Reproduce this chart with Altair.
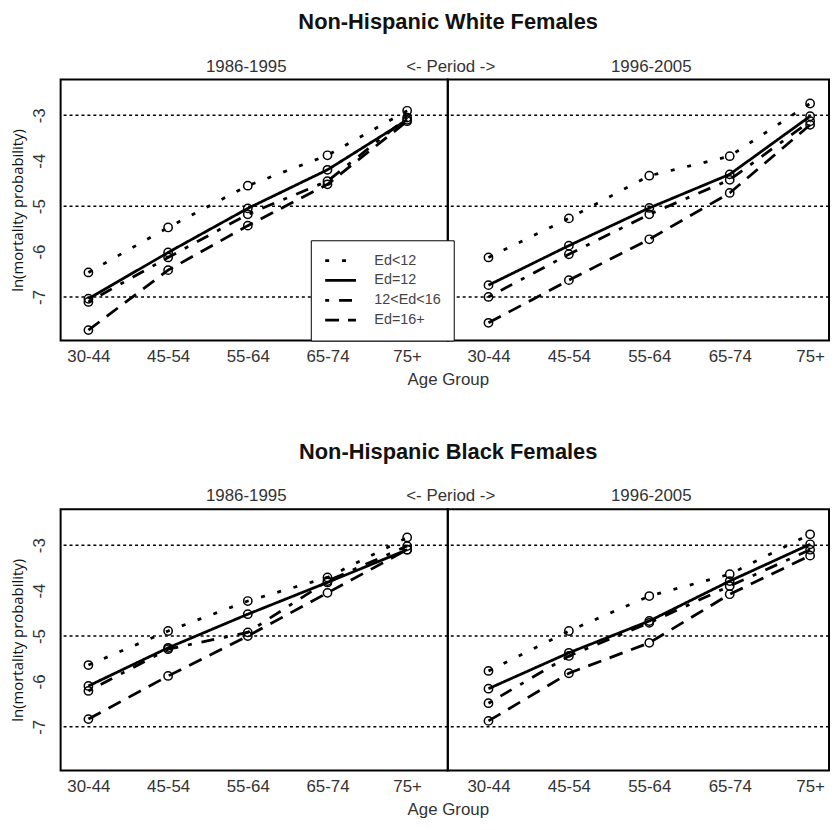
import altair as alt
import pandas as pd

# ---- data ----
age_labels = ["30-44", "45-54", "55-64", "65-74", "75+"]
age_pos = [1, 2, 3, 4, 5]
edu_levels = ["Ed<12", "Ed=12", "12<Ed<16", "Ed=16+"]
periods = ["1986-1995", "1996-2005"]
ref_lines = [-3, -5, -7]
y_ticks = [-7, -6, -5, -4, -3]

# Non-Hispanic White Females, 1986-1995
w1_lt12 = [-6.46, -5.47, -4.55, -3.88, -2.90]
w1_eq12 = [-7.04, -6.02, -5.05, -4.20, -3.10]
w1_mid = [-7.11, -6.13, -5.18, -4.45, -3.05]
w1_col = [-7.73, -6.41, -5.43, -4.52, -3.13]
# Non-Hispanic White Females, 1996-2005
w2_lt12 = [-6.13, -5.27, -4.33, -3.90, -2.74]
w2_eq12 = [-6.74, -5.87, -5.04, -4.30, -3.02]
w2_mid = [-7.00, -6.06, -5.18, -4.42, -3.13]
w2_col = [-7.57, -6.63, -5.73, -4.71, -3.21]
# Non-Hispanic Black Females, 1986-1995
b1_lt12 = [-5.64, -4.89, -4.23, -3.71, -2.83]
b1_eq12 = [-6.10, -5.26, -4.52, -3.82, -3.10]
b1_mid = [-6.21, -5.29, -4.92, -3.79, -3.02]
b1_col = [-6.83, -5.88, -5.00, -4.05, -3.10]
# Non-Hispanic Black Females, 1996-2005
b2_lt12 = [-5.77, -4.89, -4.12, -3.64, -2.76]
b2_eq12 = [-6.16, -5.37, -4.67, -3.79, -2.98]
b2_mid = [-6.48, -5.44, -4.71, -3.90, -3.10]
b2_col = [-6.87, -5.82, -5.15, -4.08, -3.23]

FONT = "Liberation Sans, Arial, sans-serif"
dashes = [[4, 13], [1, 0], [4, 10, 13, 10], [14, 9]]
label_expr = "[" + ",".join("'%s'" % a for a in age_labels) + "][datum.value - 1]"
Y_DOMAIN = [-7.96, -2.21]
H = 263


def frame(series):
    rows = []
    for lvl, vals in zip(edu_levels, series):
        for pos, v in zip(age_pos, vals):
            rows.append({"edu": lvl, "age": pos, "val": v})
    return pd.DataFrame(rows)


def label(text, xpix):
    return alt.Chart(pd.DataFrame({"t": [text]})).mark_text(
        font=FONT, fontSize=17, color="#333", align="center", baseline="alphabetic"
    ).encode(text="t:N", x=alt.value(xpix), y=alt.value(-8))


def panel(series, period, x_domain, width, left, legend, xtitle, period_x):
    df = frame(series)
    xs = alt.Scale(domain=x_domain, nice=False, zero=False)
    ys = alt.Scale(domain=Y_DOMAIN, nice=False, zero=False)
    if left:
        yaxis = alt.Axis(values=y_ticks, ticks=False, grid=False, domain=False,
                         labelExpr="'' + datum.value",
                         labelAngle=270, labelAlign="center", labelBaseline="bottom",
                         labelPadding=12, labelFont=FONT, labelFontSize=17,
                         labelColor="#333", title="ln(mortality probability)",
                         titleFont="Open Sans", titleFontSize=15, titleFontWeight="normal",
                         titleColor="#111", titlePadding=5)
    else:
        yaxis = None
    xaxis = alt.Axis(values=age_pos, labelExpr=label_expr, ticks=False, grid=False,
                     domain=False, labelPadding=8, labelFont=FONT, labelFontSize=17,
                     labelColor="#333", labelFlush=False,
                     title="Age Group" if xtitle else None,
                     titleFont=FONT, titleFontSize=17, titleFontWeight="normal",
                     titleColor="#333", titlePadding=7,
                     **({"titleX": width} if xtitle else {}))
    base = alt.Chart(df)
    rules = alt.Chart(pd.DataFrame({"y": ref_lines})).mark_rule(
        color="black", strokeDash=[3, 3], strokeWidth=1.5
    ).encode(y=alt.Y("y:Q", scale=ys, axis=yaxis))
    if legend:
        leg = alt.Legend(orient="none", legendX=252, legendY=162, title=None,
                         symbolType="stroke", symbolSize=961, symbolStrokeWidth=2.8,
                         symbolStrokeColor="black", clipHeight=15, rowPadding=4,
                         labelFont=FONT, labelFontSize=14.5, labelColor="#444",
                         strokeColor="black", fillColor="white", padding=13,
                         labelOffset=17)
    else:
        leg = None
    lines = base.mark_line(color="black", strokeWidth=2.8).encode(
        x=alt.X("age:Q", scale=xs, axis=xaxis),
        y=alt.Y("val:Q", scale=ys),
        strokeDash=alt.StrokeDash("edu:N", scale=alt.Scale(domain=edu_levels, range=dashes),
                                  legend=leg),
    )
    pts = base.mark_point(shape="circle", filled=False, color="black", size=70,
                          strokeWidth=1.5, opacity=1).encode(
        x=alt.X("age:Q", scale=xs), y=alt.Y("val:Q", scale=ys), detail="edu:N")
    layers = [rules, lines, pts, label(period, period_x)]
    if not left:
        layers.append(label("<- Period ->", 3))
    return alt.layer(*layers).properties(width=width, height=H)


def row(title, s1, s2, legend):
    p1 = panel(s1, periods[0], [0.651, 5.51], 390, True, legend, True, 187)
    p2 = panel(s2, periods[1], [0.494, 5.235], 384, False, False, False, 205)
    return alt.hconcat(p1, p2, spacing=0, bounds="flush").properties(
        title=alt.TitleParams(title, font=FONT, fontSize=22, fontWeight="bold",
                              color="#111", anchor="middle", offset=23, dx=28)
    )


top = row("Non-Hispanic White Females", [w1_lt12, w1_eq12, w1_mid, w1_col],
          [w2_lt12, w2_eq12, w2_mid, w2_col], True)
bottom = row("Non-Hispanic Black Females", [b1_lt12, b1_eq12, b1_mid, b1_col],
             [b2_lt12, b2_eq12, b2_mid, b2_col], False)

chart = alt.vconcat(top, bottom, spacing=53).properties(
    padding={"top": 0, "left": 2, "right": 0, "bottom": 0}
).configure(
    background="white",
    view=alt.ViewConfig(stroke="black", strokeWidth=2),
)

chart.save("out.html", embed_options={"renderer": "svg", "actions": False})
